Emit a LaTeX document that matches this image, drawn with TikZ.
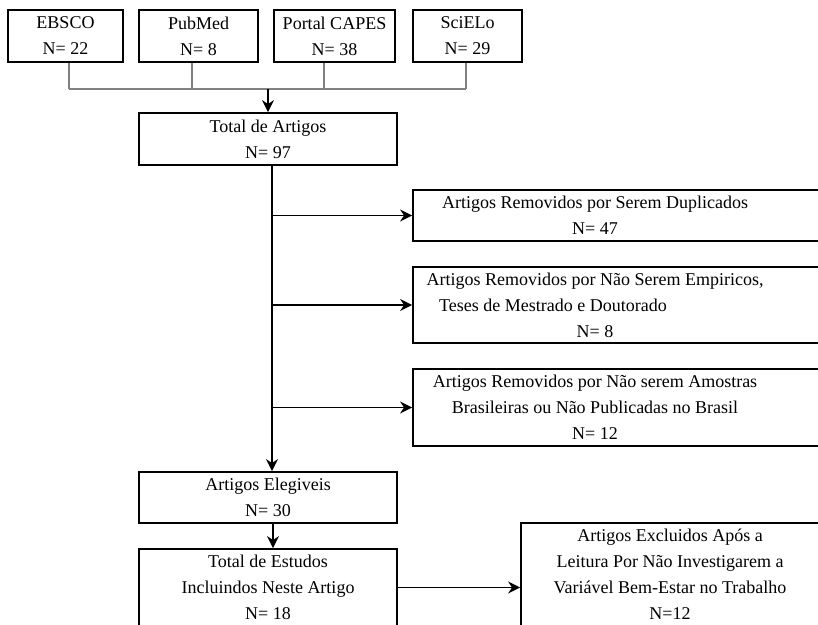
\documentclass[tikz,border=0pt]{standalone}
\usepackage{fontspec}
\setmainfont{Liberation Serif}
\usetikzlibrary{arrows.meta}
\definecolor{FeedGray}{HTML}{808080}

\begin{document}
\begin{tikzpicture}[
  x=0.5pt,y=-0.5pt,font=\fontsize{9}{13}\selectfont,
  box/.style={draw,line width=0.9pt,inner sep=0pt,align=center},
  feed/.style={FeedGray,line width=1pt},
  flow/.style={-{Stealth[length=6pt,width=6pt]},line width=0.8pt},
]
\useasboundingbox (0,0) rectangle (818,625);

\node[box,minimum width=57.5pt,minimum height=26pt] (ebsco) at (65.5,36)
  {EBSCO\\N= 22};
\node[box,minimum width=59.5pt,minimum height=26pt] (pubmed) at (198.5,36)
  {PubMed\\N= 8};
\node[box,minimum width=60.5pt,minimum height=26pt] (capes) at (334.5,36)
  {Portal CAPES\\N= 38};
\node[box,minimum width=54.5pt,minimum height=26pt] (scielo) at (467.5,36)
  {SciELo\\N= 29};
\coordinate (join) at (268,89);

\node[box,minimum width=129pt,minimum height=26pt] (tot) at (268,139)
  {Total de Artigos\\N= 97};

\node[box,minimum width=208.5pt,minimum height=25.5pt,
  label={[align=center,xshift=-13.25pt]center:{Artigos Removidos por Serem Duplicados\\N= 47}}]
  (dup) at (621.5,215.5) {};
\node[box,minimum width=208.5pt,minimum height=38pt,
  label={[align=center,xshift=-13.25pt]center:{Artigos Removidos por Não Serem Empiricos,\\
  \mbox{Teses de Mestrado e Doutorado\hspace{42pt}}\\N= 8}}]
  (emp) at (621.5,305) {};
\node[box,minimum width=208.5pt,minimum height=38.5pt,
  label={[align=center,xshift=-13.25pt]center:{Artigos Removidos por Não serem Amostras\\
  Brasileiras ou Não Publicadas no Brasil\\N= 12}}]
  (bra) at (621.5,407.5) {};

\node[box,minimum width=129pt,minimum height=25.5pt] (eleg) at (268,497.5)
  {Artigos Elegiveis\\N= 30};
\node[box,minimum width=129pt,minimum height=38.5pt] (est) at (268,587.5)
  {Total de Estudos\\Incluindos Neste Artigo\\N= 18};
\node[box,minimum width=149pt,minimum height=51.5pt] (exc) at (670,574.5)
  {Artigos Excluidos Após a\\Leitura Por Não Investigarem a\\
   Variável Bem-Estar no Trabalho\\N=12};

\foreach \src/\dx in {ebsco/1.75,pubmed/-3.25,capes/-5.25,scielo/-0.75}
  \draw[feed] ([xshift=\dx pt]\src.south) -- ([xshift=\dx pt]\src.south |- join);
\draw[feed,line cap=square] ([xshift=1.75pt]ebsco.south |- join)
  -- ([xshift=-0.75pt]scielo.south |- join);
\draw[flow] (join) -- (tot.north);

\draw[flow] ([xshift=2pt]tot.south) -- ([xshift=2pt]eleg.north);
\foreach \rem in {dup,emp,bra}
  \draw[flow] ([xshift=2pt]\rem.west -| tot.south) -- (\rem.west);
\draw[flow] ([xshift=2.5pt]eleg.south) -- ([xshift=2.5pt]est.north);
\draw[flow] (est.east) -- (est.east -| exc.west);
\end{tikzpicture}
\end{document}
